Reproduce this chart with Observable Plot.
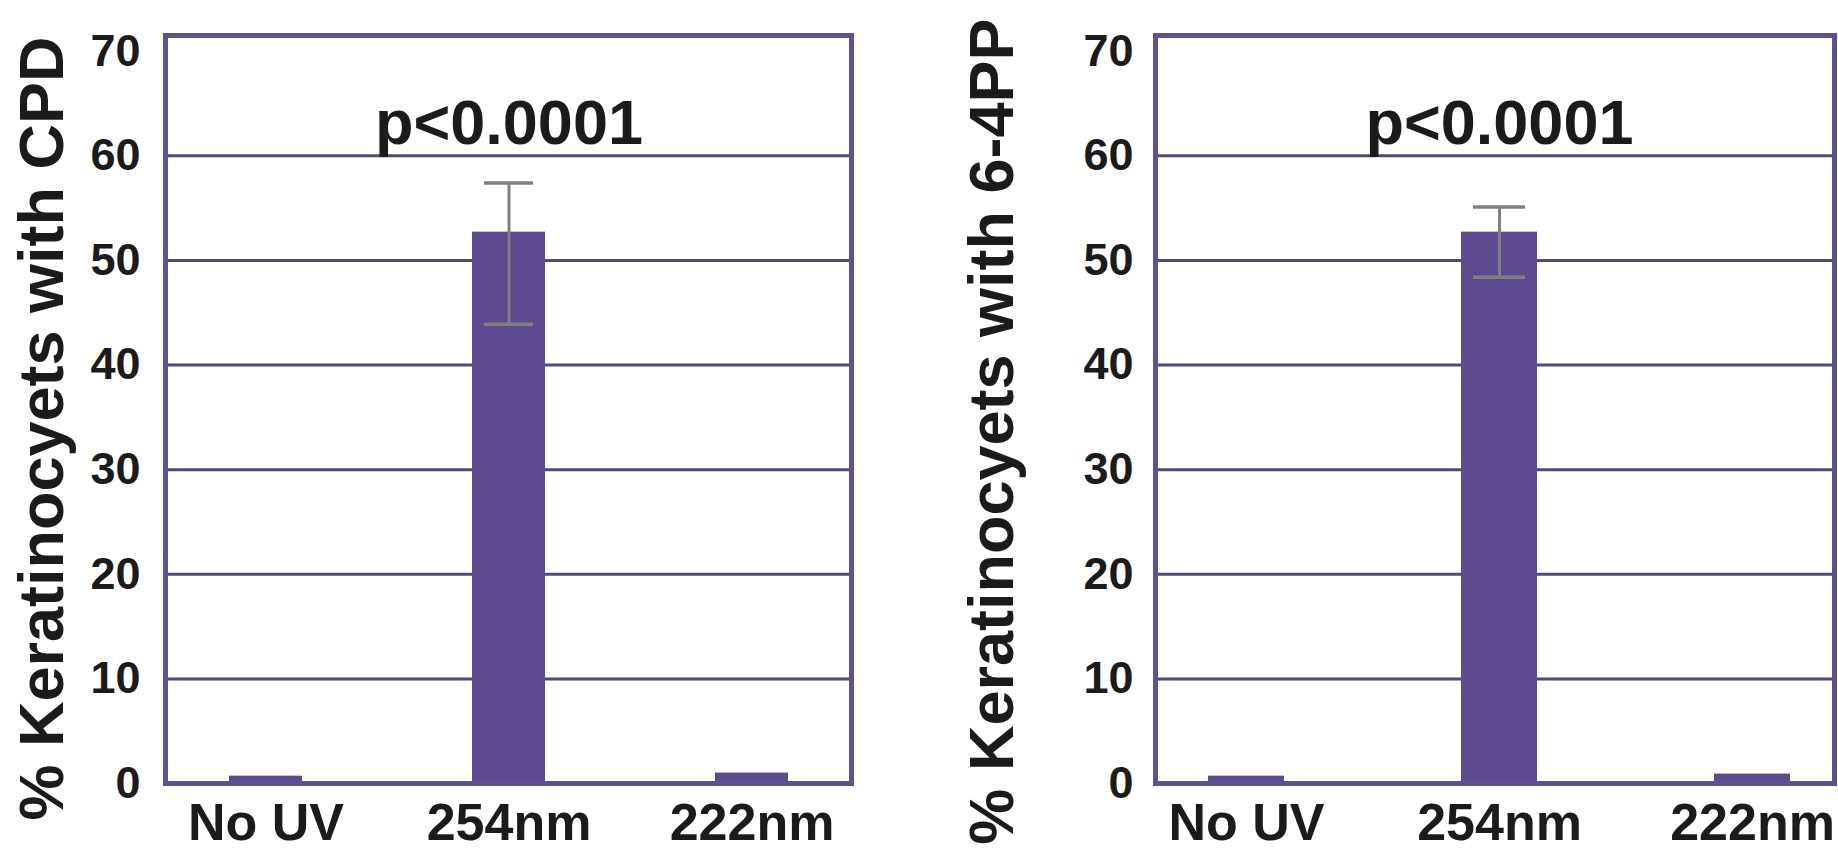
<!DOCTYPE html>
<html><head><meta charset="utf-8">
<script src="https://cdn.jsdelivr.net/npm/d3@7"></script>
<script src="https://cdn.jsdelivr.net/npm/@observablehq/plot@0.6"></script>
<style>
html,body{margin:0;padding:0;background:#fff;}
#wrap{display:flex;width:1838px;height:855px;overflow:hidden;}
#wrap svg{display:block;flex:none;}
</style></head><body><div id="wrap"></div>
<script>
// ---- data ----
const categories = ["No UV", "254nm", "222nm"];
const cpdMean  = [0.7, 52.7, 1.0];
const cpdLow   = [null, 43.9, null];
const cpdHigh  = [null, 57.4, null];
const pp64Mean = [0.7, 52.7, 0.9];
const pp64Low  = [null, 48.4, null];
const pp64High = [null, 55.1, null];
const yTicks = [0, 10, 20, 30, 40, 50, 60, 70];
const gridTicks = [10, 20, 30, 40, 50, 60];
const yMax = 71.5;
const pLabel = "p<0.0001";
const pAt = "254nm";
const cpdTitle = "% Keratinocyets with CPD";
const pp64Title = "% Keratinocyets with 6-4PP";

// ---- style ----
const BAR = "#5d4a8f";
const FRAME = "#5c5193";
const GRID = "#4f4a7a";
const ERR = "#808080";
const FONT = "'Liberation Sans', Arial, Helvetica, sans-serif";

function panel(o) {
  const rows = categories.map((c, i) => ({cat: c, mean: o.mean[i], low: o.low[i], high: o.high[i]}));
  const err = rows.filter(d => d.low != null);
  return Plot.plot({
    width: o.width, height: 855,
    marginTop: 35, marginBottom: 72, marginLeft: o.marginLeft, marginRight: o.marginRight,
    style: {fontFamily: FONT, fontWeight: "bold", color: "#1b1b1b", background: "#fff", overflow: "visible"},
    x: {domain: categories, paddingInner: 0.7, paddingOuter: o.paddingOuter, align: o.align, label: null},
    y: {domain: [0, yMax], label: null},
    marks: [
      Plot.ruleY(gridTicks, {stroke: GRID, strokeWidth: 3}),
      Plot.barY(rows, {x: "cat", y: "mean", fill: BAR}),
      Plot.ruleX(err, {x: "cat", y1: "low", y2: "high", stroke: ERR, strokeWidth: 3}),
      Plot.tickY(err, {x: "cat", y: "low", stroke: ERR, strokeWidth: 3.5, insetLeft: 12, insetRight: 12}),
      Plot.tickY(err, {x: "cat", y: "high", stroke: ERR, strokeWidth: 3.5, insetLeft: 12, insetRight: 12}),
      Plot.frame({stroke: FRAME, strokeWidth: 5}),
      Plot.axisY({ticks: yTicks, tickSize: 0, tickPadding: o.tickPad, fontSize: 45, fontWeight: "bold", label: null}),
      Plot.axisX({tickSize: 0, tickPadding: 20, fontSize: 52, fontWeight: "bold", label: null}),
      Plot.text([{cat: pAt, t: pLabel}], {x: "cat", text: "t", frameAnchor: "top", dy: 64, fontSize: 63, fontWeight: "bold", fill: "#1b1b1b"}),
      Plot.text([o.title], {text: d => d, frameAnchor: "left", rotate: -90, textAnchor: "middle", dx: o.labelDx, dy: o.labelDy, fontSize: 63, fontWeight: "bold", fill: "#1b1b1b"})
    ]
  });
}

const wrap = document.getElementById("wrap");
wrap.appendChild(panel({mean: cpdMean, low: cpdLow, high: cpdHigh, title: cpdTitle,
  width: 919, marginLeft: 165, marginRight: 68, tickPad: 25, labelDx: -123, labelDy: 19, paddingOuter: 0.26, align: 0.5}));
wrap.appendChild(panel({mean: pp64Mean, low: pp64Low, high: pp64High, title: pp64Title,
  width: 919, marginLeft: 236, marginRight: 4, tickPad: 22, labelDx: -163, labelDy: 22, paddingOuter: 0.19, align: 0.55}));
</script>
</body></html>
